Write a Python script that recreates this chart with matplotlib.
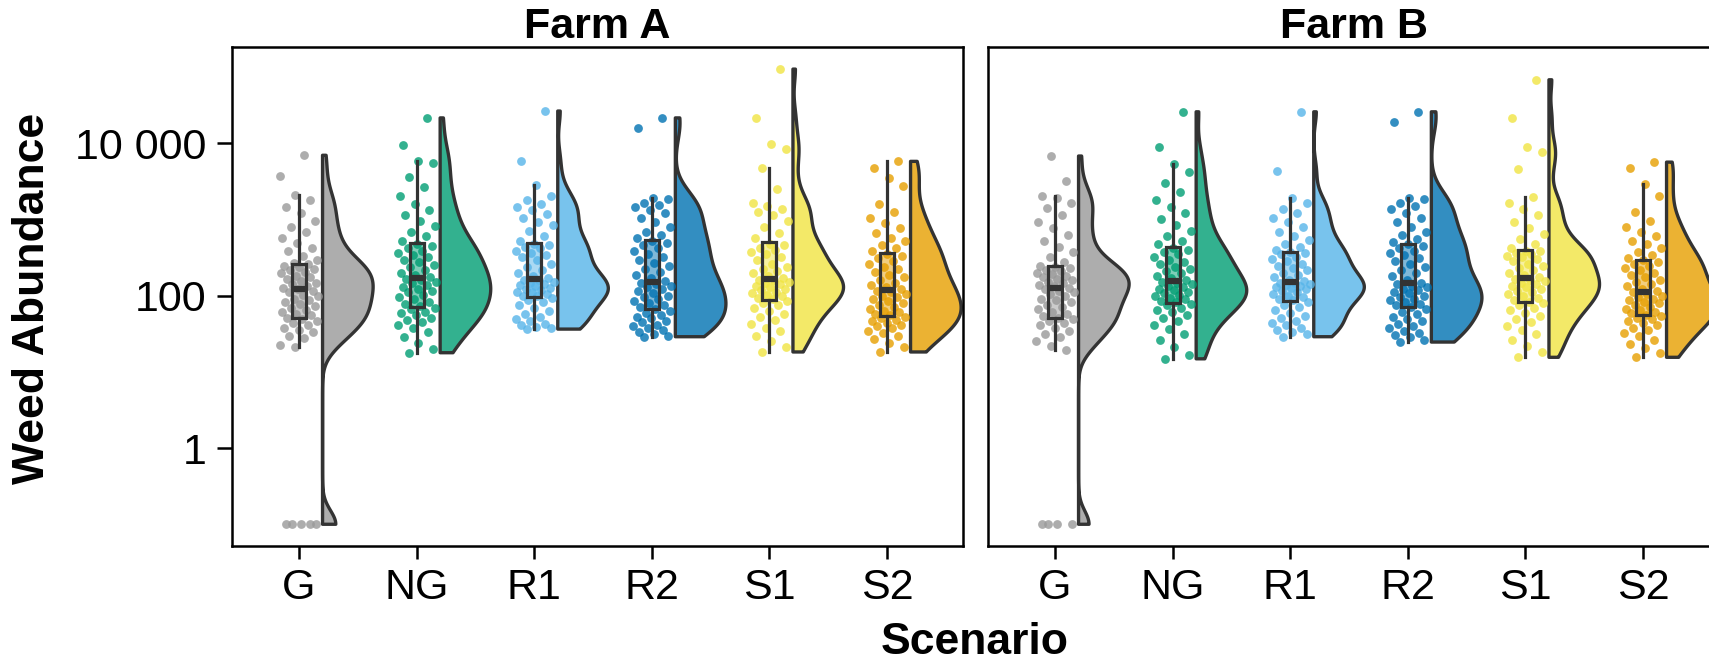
'''
Raincloud plot of weed abundance per scenario, two farms side by side.
Jittered points + boxplot + half violin on a log10 axis.
'''
import numpy as np
import matplotlib
matplotlib.use('Agg')
from matplotlib import pyplot as plt
from matplotlib import cbook
from matplotlib.colors import to_rgba
from matplotlib.ticker import FixedLocator, NullLocator

plt.rcParams['font.family'] = ['Liberation Sans', 'DejaVu Sans']

scenarios = ['G', 'NG', 'R1', 'R2', 'S1', 'S2']
farms = ['Farm A', 'Farm B']
colors = ['#999999', '#009E73', '#56B4E9', '#0072B2', '#F0E442', '#E69F00']
ytick_vals = [1, 100, 10000]
ytick_labels = ['1', '100', '10 000']

# log10 of weed abundance (zero counts are drawn at 0.1 -> -1)
farmA_G = [-1, -1, -1, -1, -1,
           1.32, 1.35, 1.44, 1.47, 1.52, 1.55, 1.58, 1.62, 1.64, 1.67, 1.69,
           1.71, 1.74, 1.76, 1.79, 1.81, 1.84, 1.86, 1.89, 1.91, 1.94, 1.96, 1.99, 2.01, 2.04, 2.06, 2.08,
           2.10, 2.12, 2.15, 2.17, 2.19, 2.22, 2.24, 2.26, 2.29, 2.31, 2.33, 2.35, 2.37, 2.39, 2.41, 2.43,
           2.47, 2.52, 2.58, 2.63, 2.69, 2.76, 2.83, 2.90, 2.98, 3.08, 3.16, 3.25, 3.32,
           3.57, 3.84]
farmA_NG = [1.25, 1.30, 1.38, 1.45, 1.52, 1.57, 1.61, 1.65, 1.68, 1.71, 1.74, 1.77, 1.79, 1.82, 1.84,
            1.86, 1.89, 1.92, 1.95, 1.98, 2.01, 2.04, 2.06, 2.09, 2.11, 2.14, 2.16, 2.18, 2.20, 2.22,
            2.24, 2.27, 2.30, 2.33, 2.37, 2.40, 2.44, 2.47, 2.50, 2.53, 2.56, 2.59, 2.62, 2.65, 2.68,
            2.72, 2.78, 2.84, 2.91, 2.98, 3.05, 3.12, 3.20, 3.30, 3.42, 3.55, 3.74, 3.76,
            3.97, 4.33]
farmA_R1 = [1.56, 1.57, 1.59, 1.61, 1.63, 1.66, 1.69, 1.72, 1.76, 1.80, 1.84, 1.88, 1.91, 1.94, 1.97,
            1.99, 2.00, 2.02, 2.04, 2.05, 2.07, 2.09, 2.10, 2.12, 2.14, 2.15, 2.17, 2.18, 2.20, 2.21,
            2.23, 2.26, 2.30, 2.34, 2.38, 2.42, 2.46, 2.50, 2.53, 2.56, 2.59, 2.62, 2.64, 2.66, 2.68,
            2.72, 2.78, 2.85, 2.92, 2.97, 3.02, 3.07, 3.12, 3.16, 3.20, 3.25, 3.30, 3.45, 3.76,
            4.42]
farmA_R2 = [1.46, 1.47, 1.49, 1.52, 1.55, 1.58, 1.60, 1.62, 1.65, 1.67, 1.70, 1.72, 1.75, 1.77, 1.80,
            1.83, 1.85, 1.88, 1.90, 1.93, 1.95, 1.98, 2.00, 2.03, 2.06, 2.08, 2.11, 2.13, 2.15, 2.17,
            2.19, 2.23, 2.27, 2.31, 2.35, 2.39, 2.43, 2.47, 2.51, 2.55, 2.59, 2.63, 2.66, 2.69, 2.72,
            2.75, 2.79, 2.84, 2.90, 2.96, 3.02, 3.08, 3.12, 3.16, 3.19, 3.22, 3.26, 3.28,
            4.20, 4.33]
farmA_S1 = [1.26, 1.33, 1.40, 1.47, 1.53, 1.58, 1.63, 1.68, 1.72, 1.76, 1.80, 1.84, 1.87, 1.90, 1.93,
            1.95, 1.97, 1.99, 2.01, 2.03, 2.05, 2.07, 2.09, 2.11, 2.13, 2.15, 2.17, 2.18, 2.20, 2.21,
            2.23, 2.26, 2.29, 2.32, 2.35, 2.38, 2.42, 2.46, 2.50, 2.54, 2.57, 2.60, 2.63, 2.66, 2.68,
            2.75, 2.82, 2.90, 2.98, 3.05, 3.10, 3.14, 3.18, 3.22, 3.40, 3.67,
            3.92, 3.99, 4.33, 4.97]
farmA_S2 = [1.26, 1.32, 1.38, 1.43, 1.47, 1.51, 1.54, 1.57, 1.60, 1.62, 1.64, 1.66, 1.68, 1.70, 1.72,
            1.74, 1.76, 1.78, 1.80, 1.83, 1.85, 1.88, 1.90, 1.93, 1.95, 1.98, 2.00, 2.02, 2.04, 2.06,
            2.08, 2.11, 2.14, 2.17, 2.20, 2.24, 2.27, 2.31, 2.35, 2.38, 2.42, 2.45, 2.49, 2.52, 2.55,
            2.58, 2.62, 2.66, 2.71, 2.76, 2.82, 2.88, 2.95, 3.02, 3.10, 3.20, 3.44, 3.54, 3.67, 3.76]

farmB_G = [-1, -1, -1, -1,
           1.29, 1.34, 1.40, 1.45, 1.50, 1.54, 1.58, 1.61, 1.64, 1.67, 1.69,
           1.70, 1.73, 1.76, 1.79, 1.82, 1.85, 1.88, 1.91, 1.94, 1.96, 1.99, 2.02, 2.04, 2.06, 2.08,
           2.10, 2.12, 2.14, 2.16, 2.18, 2.20, 2.22, 2.24, 2.26, 2.28, 2.30, 2.32, 2.34, 2.36, 2.38,
           2.39, 2.44, 2.50, 2.57, 2.64, 2.72, 2.80, 2.88, 2.97, 3.06, 3.15, 3.22, 3.28, 3.30,
           3.50, 3.83]
farmB_NG = [1.17, 1.22, 1.32, 1.42, 1.50, 1.56, 1.62, 1.67, 1.71, 1.75, 1.78, 1.81, 1.84, 1.87, 1.89,
            1.91, 1.93, 1.95, 1.97, 1.99, 2.01, 2.03, 2.05, 2.07, 2.09, 2.11, 2.13, 2.15, 2.16, 2.18,
            2.20, 2.23, 2.26, 2.29, 2.32, 2.35, 2.38, 2.41, 2.44, 2.47, 2.50, 2.54, 2.57, 2.60, 2.63,
            2.67, 2.72, 2.78, 2.85, 2.92, 3.00, 3.08, 3.16, 3.25, 3.36, 3.48, 3.62, 3.72,
            3.95, 4.41]
farmB_R1 = [1.46, 1.49, 1.52, 1.55, 1.58, 1.61, 1.64, 1.67, 1.70, 1.73, 1.77, 1.81, 1.85, 1.88, 1.92,
            1.94, 1.96, 1.98, 2.00, 2.02, 2.04, 2.06, 2.08, 2.10, 2.11, 2.13, 2.14, 2.15, 2.16, 2.17,
            2.19, 2.21, 2.24, 2.27, 2.30, 2.33, 2.36, 2.39, 2.42, 2.45, 2.48, 2.51, 2.54, 2.56, 2.57,
            2.60, 2.64, 2.68, 2.73, 2.78, 2.84, 2.90, 2.96, 3.02, 3.08, 3.14, 3.22, 3.28,
            3.63, 4.41]
farmB_R2 = [1.39, 1.42, 1.45, 1.48, 1.51, 1.54, 1.57, 1.60, 1.63, 1.66, 1.69, 1.72, 1.76, 1.79, 1.83,
            1.85, 1.87, 1.89, 1.91, 1.94, 1.96, 1.98, 2.00, 2.03, 2.05, 2.07, 2.09, 2.11, 2.13, 2.15,
            2.17, 2.21, 2.25, 2.29, 2.33, 2.37, 2.41, 2.45, 2.49, 2.53, 2.56, 2.59, 2.62, 2.65, 2.67,
            2.70, 2.74, 2.79, 2.84, 2.90, 2.96, 3.02, 3.08, 3.13, 3.18, 3.22, 3.26, 3.28,
            4.28, 4.41]
farmB_S1 = [1.19, 1.26, 1.34, 1.42, 1.49, 1.55, 1.60, 1.65, 1.69, 1.73, 1.77, 1.81, 1.84, 1.87, 1.90,
            1.92, 1.94, 1.97, 1.99, 2.02, 2.04, 2.06, 2.09, 2.11, 2.13, 2.15, 2.17, 2.19, 2.21, 2.22,
            2.24, 2.27, 2.30, 2.33, 2.36, 2.39, 2.42, 2.45, 2.48, 2.50, 2.52, 2.54, 2.56, 2.58, 2.59,
            2.63, 2.68, 2.74, 2.81, 2.88, 2.96, 3.05, 3.14, 3.22, 3.29,
            3.66, 3.88, 3.95, 4.33, 4.83]
farmB_S2 = [1.19, 1.25, 1.31, 1.37, 1.42, 1.47, 1.51, 1.55, 1.58, 1.61, 1.64, 1.67, 1.69, 1.71, 1.73,
            1.75, 1.77, 1.79, 1.81, 1.83, 1.85, 1.87, 1.90, 1.92, 1.94, 1.96, 1.98, 2.00, 2.02, 2.04,
            2.06, 2.09, 2.12, 2.15, 2.18, 2.21, 2.24, 2.27, 2.30, 2.33, 2.36, 2.39, 2.42, 2.44, 2.46,
            2.49, 2.53, 2.57, 2.62, 2.67, 2.72, 2.78, 2.84, 2.90, 2.98, 3.10, 3.30, 3.46,
            3.67, 3.75]

farm_data = [
    [farmA_G, farmA_NG, farmA_R1, farmA_R2, farmA_S1, farmA_S2],
    [farmB_G, farmB_NG, farmB_R1, farmB_R2, farmB_S1, farmB_S2],
]

EDGE = '#333333'
LW = 1.8


def raincloud(ax, pos, logv, color):
    logv = np.sort(np.asarray(logv, dtype=float))
    n = len(logv)

    # half violin (gaussian kde on log scale, trimmed to data range)
    q75, q25 = np.percentile(logv, [75, 25])
    bw = 0.9 * min(logv.std(ddof=1), (q75 - q25) / 1.34) * n ** -0.2 * 0.85
    grid = np.linspace(logv.min(), logv.max(), 400)
    dens = np.exp(-0.5 * ((grid[:, None] - logv[None, :]) / bw) ** 2).sum(axis=1)
    w = dens / dens.max() * 0.43
    x0 = pos + 0.2
    xs = np.concatenate([[x0], x0 + w, [x0]])
    ys = np.concatenate([[grid[0]], grid, [grid[-1]]])
    ax.fill(xs, 10 ** ys, facecolor=to_rgba(color, 0.8), edgecolor=EDGE,
            linewidth=2.4, joinstyle='round', zorder=2)

    # jittered raw points
    off = ((np.arange(n) * 0.618034 + 0.31) % 1 - 0.5) * 0.33
    ax.scatter(pos + off, 10 ** logv, s=40, color=color, alpha=0.8,
               linewidths=0, zorder=3)

    # boxplot, stats on the log scale like ggplot does
    st = cbook.boxplot_stats(logv, whis=1.5)[0]
    for k in ['med', 'q1', 'q3', 'whislo', 'whishi']:
        st[k] = 10 ** st[k]
    st['fliers'] = []
    ax.bxp([st], positions=[pos], widths=0.12, patch_artist=True,
           showcaps=False, showfliers=False, manage_ticks=False,
           boxprops=dict(facecolor=to_rgba(color, 0.5), edgecolor=EDGE, linewidth=2.3),
           whiskerprops=dict(color=EDGE, linewidth=2.3),
           medianprops=dict(color=EDGE, linewidth=4.5, solid_capstyle='butt'),
           zorder=4)


fig = plt.figure(figsize=(17.09, 6.63), dpi=100)
W, H = 1709.0, 663.0
axes = [fig.add_axes([232 / W, 1 - 546 / H, 731 / W, 499 / H]),
        fig.add_axes([988 / W, 1 - 546 / H, 731 / W, 499 / H])]

for k, ax in enumerate(axes):
    for i, grp in enumerate(farm_data[k]):
        raincloud(ax, i, grp, colors[i])
    ax.set_yscale('log')
    ax.set_ylim(10 ** -1.285, 10 ** 5.26)
    ax.set_xlim(-0.57, 5.646)
    ax.set_xticks(range(len(scenarios)))
    ax.set_xticklabels(scenarios)
    ax.yaxis.set_major_locator(FixedLocator(ytick_vals))
    ax.yaxis.set_minor_locator(NullLocator())
    ax.set_yticklabels(ytick_labels)
    ax.set_title(farms[k], fontsize=31, fontweight='bold', pad=3)
    for sp in ax.spines.values():
        sp.set_linewidth(LW)
        sp.set_color('black')
    ax.tick_params(axis='x', length=9.5, width=LW, labelsize=31, pad=6, color='black')
    ax.tick_params(axis='y', length=10.5, width=LW, labelsize=31, pad=8, color='black')
    if k == 1:
        ax.tick_params(axis='y', left=False, labelleft=False)

fig.text(33 / W, 1 - 298 / H, 'Weed Abundance', rotation=90, ha='center', va='center',
         fontsize=32, fontweight='bold')
fig.text(975 / W, 1 - 654 / H, 'Scenario', ha='center', va='baseline',
         fontsize=32, fontweight='bold')

fig.savefig('out.png', dpi=100)
